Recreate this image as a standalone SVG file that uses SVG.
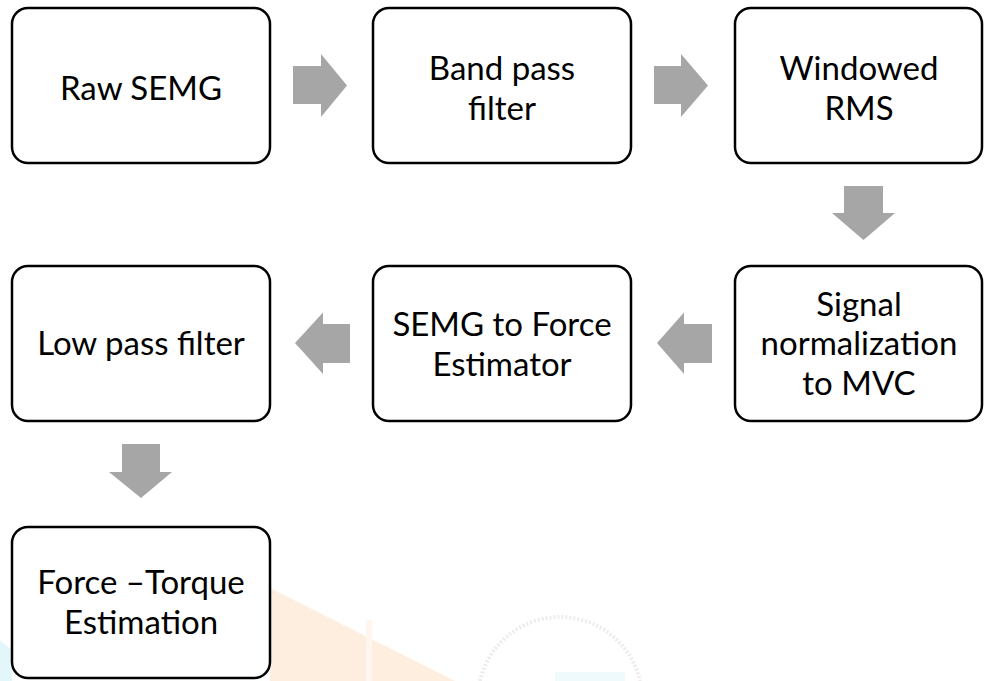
<svg xmlns="http://www.w3.org/2000/svg" width="985" height="681" viewBox="0 0 985 681">
  <style>
    .box { fill: #ffffff; stroke: #000000; stroke-width: 2.5; }
    .lbl { font-family: Lato, "Open Sans", "Liberation Sans", sans-serif; font-size: 33px; fill: #000000; text-anchor: middle; }
    .arr { fill: #a6a6a6; }
  </style>
  <rect x="0" y="0" width="985" height="681" fill="#ffffff"/>
  <g id="background">
    <polygon points="270,588 455,681 270,681" fill="#fdeedf"/>
    <rect x="366" y="620" width="6" height="61" fill="#fff7ef"/>
    <polygon points="0,640 12,650 12,681 0,681" fill="#e3f7fb"/>
    <path d="M 480 681 A 82 82 0 0 1 640 681" fill="none" stroke="#ececec" stroke-width="4" stroke-dasharray="2 2"/>
    <rect x="555" y="672" width="70" height="9" fill="#eefafc"/>
  </g>
  <g id="connectors">
    <polygon class="arr" points="293,66 321,66 321,54 347,85.5 321,117 321,104 293,104"/>
    <polygon class="arr" points="654,66 681,66 681,54 708,85.5 681,117 681,104 654,104"/>
    <polygon class="arr" points="844,186 883,186 883,213 895,213 863.5,240 832,213 844,213"/>
    <polygon class="arr" points="712,324 684,324 684,312.5 657,343 684,374 684,363 712,363"/>
    <polygon class="arr" points="350,324 323,324 323,312.5 295,343 323,374 323,363 350,363"/>
    <polygon class="arr" points="122,444 160,444 160,472 172,472 141,498 109,472 122,472"/>
  </g>
  <g id="raw-semg">
    <rect class="box" x="12" y="8" width="258" height="155" rx="16"/>
    <text class="lbl" x="141" y="100">Raw SEMG</text>
  </g>
  <g id="band-pass">
    <rect class="box" x="373" y="8" width="258" height="155" rx="16"/>
    <text class="lbl" x="502" y="80">Band pass</text>
    <text class="lbl" x="502" y="119.5">filter</text>
  </g>
  <g id="windowed-rms">
    <rect class="box" x="735" y="8" width="247" height="155" rx="16"/>
    <text class="lbl" x="859" y="80">Windowed</text>
    <text class="lbl" x="859" y="119.5">RMS</text>
  </g>
  <g id="signal-normalization">
    <rect class="box" x="735" y="266" width="247" height="155" rx="16"/>
    <text class="lbl" x="859" y="315.5">Signal</text>
    <text class="lbl" x="859" y="355">normalization</text>
    <text class="lbl" x="859" y="394.5">to MVC</text>
  </g>
  <g id="semg-force">
    <rect class="box" x="373" y="266" width="258" height="155" rx="16"/>
    <text class="lbl" x="502" y="336">SEMG to Force</text>
    <text class="lbl" x="502" y="375.5">Estimator</text>
  </g>
  <g id="low-pass">
    <rect class="box" x="12" y="266" width="258" height="155" rx="16"/>
    <text class="lbl" x="141" y="355">Low pass filter</text>
  </g>
  <g id="force-torque">
    <rect class="box" x="12" y="527" width="258" height="151" rx="16"/>
    <text class="lbl" x="141" y="594">Force –Torque</text>
    <text class="lbl" x="141" y="633.5">Estimation</text>
  </g>
</svg>
